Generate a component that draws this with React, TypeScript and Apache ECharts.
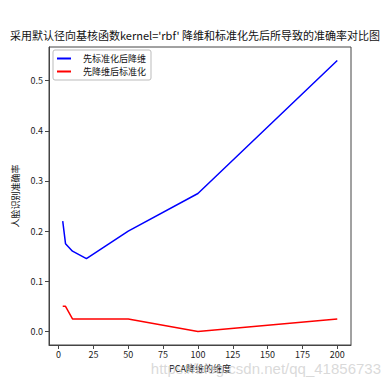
import React, { useEffect, useRef } from "react";
import * as echarts from "echarts";

const titleText = "采用默认径向基核函数kernel='rbf' 降维和标准化先后所导致的准确率对比图";
const dims = [3, 5, 10, 20, 50, 100, 200];
const stdThenPca = [0.22, 0.175, 0.16, 0.145, 0.2, 0.275, 0.54];
const pcaThenStd = [0.05, 0.05, 0.025, 0.025, 0.025, 0.0, 0.025];
const seriesNames = ["先标准化后降维", "先降维后标准化"];
const xTicks = [0, 25, 50, 75, 100, 125, 150, 175, 200];
const yTicks = [0, 0.1, 0.2, 0.3, 0.4, 0.5];
const xLabel = "PCA降维的维度";
const yLabel = "人脸识别准确率";
const watermark = "https://blog.csdn.net/qq_41856733";

const FONT = "'Noto Sans CJK SC', 'DejaVu Sans', sans-serif";

export default function App() {
  const ref = useRef<HTMLDivElement>(null);
  useEffect(() => {
    if (!ref.current) return;
    const chart = echarts.init(ref.current, null, { renderer: "svg" });
    const xmin = -6.85;
    const xmax = 209.85;
    const ymin = -0.027;
    const ymax = 0.567;
    chart.setOption({
      animation: false,
      backgroundColor: "#ffffff",
      title: {
        text: titleText,
        left: "center",
        top: 24,
        textStyle: { fontFamily: FONT, fontSize: 11, fontWeight: "normal", color: "#111" },
      },
      legend: {
        orient: "vertical",
        left: 53,
        top: 50,
        padding: [2, 5, 2, 4],
        borderColor: "#bbbbbb",
        borderWidth: 1,
        borderRadius: 2,
        itemGap: 0,
        itemWidth: 14,
        itemHeight: 2,
        icon: "rect",
        textStyle: { fontFamily: FONT, fontSize: 9, lineHeight: 13, color: "#111", padding: [0, 0, 0, 7] },
        data: seriesNames,
      },
      grid: {
        left: 49,
        top: 47,
        width: 302,
        height: 298,
        show: true,
        borderColor: "#444",
        borderWidth: 1,
        containLabel: false,
      },
      xAxis: {
        type: "value",
        min: xmin,
        max: xmax,
        name: xLabel,
        nameLocation: "middle",
        nameGap: 18,
        nameTextStyle: { fontFamily: FONT, fontSize: 9, color: "#111" },
        splitLine: { show: false },
        axisLine: { show: true, onZero: false, lineStyle: { color: "#444", width: 1 } },
        axisTick: { show: true, length: 4, customValues: xTicks, lineStyle: { color: "#444" } },
        axisLabel: {
          customValues: xTicks,
          fontFamily: FONT,
          fontSize: 9,
          color: "#222",
          margin: 5,
          formatter: (v: number) => String(v),
        },
      },
      yAxis: {
        type: "value",
        min: ymin,
        max: ymax,
        name: yLabel,
        nameLocation: "middle",
        nameGap: 21,
        nameRotate: 90,
        nameTextStyle: { fontFamily: FONT, fontSize: 9, color: "#111" },
        splitLine: { show: false },
        axisLine: { show: true, onZero: false, lineStyle: { color: "#444", width: 1 } },
        axisTick: { show: true, length: 4, customValues: yTicks, lineStyle: { color: "#444" } },
        axisLabel: {
          customValues: yTicks,
          fontFamily: FONT,
          fontSize: 9,
          color: "#222",
          margin: 6,
          formatter: (v: number) => v.toFixed(1),
        },
      },
      series: [
        {
          name: seriesNames[0],
          type: "line",
          data: dims.map((d, i) => [d, stdThenPca[i]]),
          symbol: "none",
          lineStyle: { color: "#0000ff", width: 1.5 },
          itemStyle: { color: "#0000ff" },
        },
        {
          name: seriesNames[1],
          type: "line",
          data: dims.map((d, i) => [d, pcaThenStd[i]]),
          symbol: "none",
          lineStyle: { color: "#ff0000", width: 1.5 },
          itemStyle: { color: "#ff0000" },
        },
      ],
      graphic: [
        {
          type: "text",
          right: 9,
          top: 361,
          style: {
            text: watermark,
            fontFamily: "'Liberation Sans', Arial, sans-serif",
            fontSize: 15,
            fill: "rgba(205,205,205,0.75)",
          },
          z: 100,
        },
      ],
    });
    return () => chart.dispose();
  }, []);
  return (
    <div
      ref={ref}
      style={{ position: "absolute", left: 0, top: 0, width: 390, height: 388 }}
    />
  );
}
